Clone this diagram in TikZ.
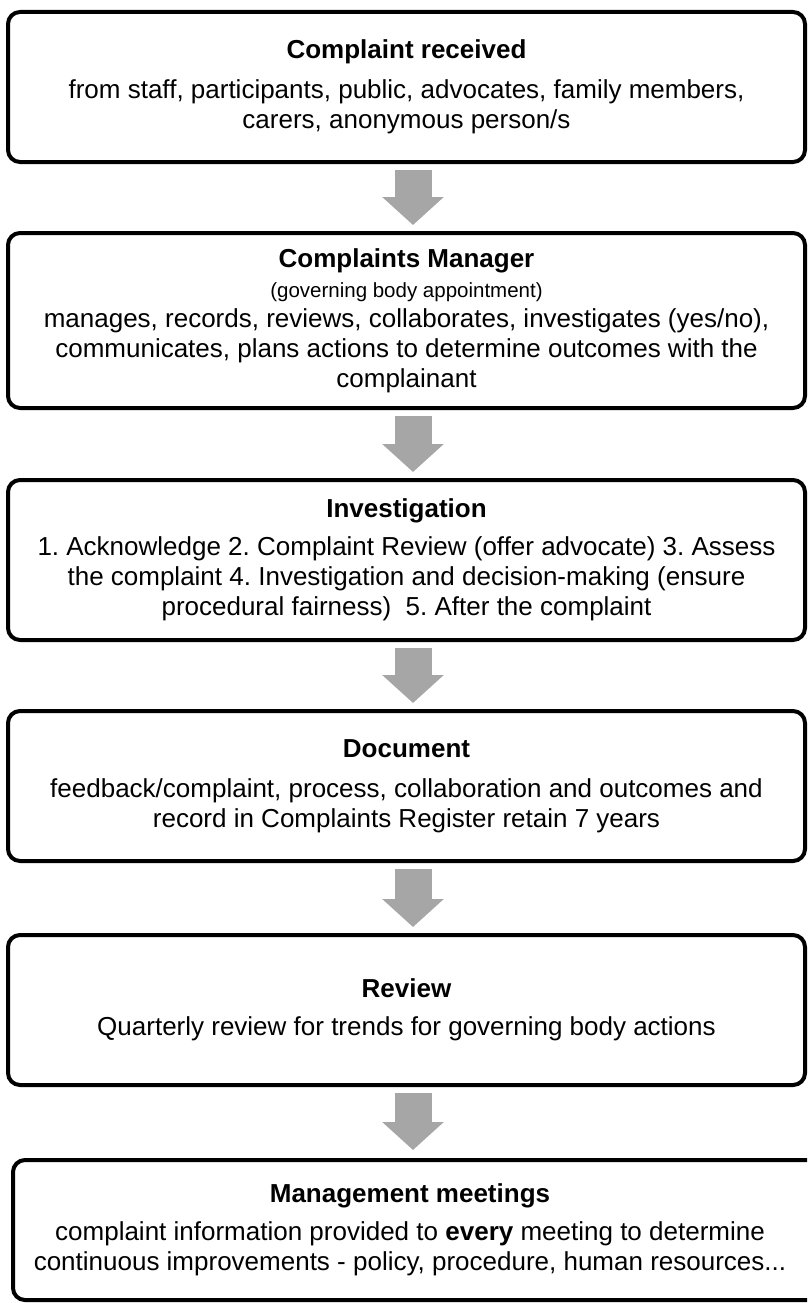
\documentclass[tikz,border=0pt]{standalone}
\usepackage{fontspec}
\setmainfont{Liberation Sans}
\usetikzlibrary{arrows.meta}
\definecolor{arrowgray}{HTML}{A6A6A6}
\frenchspacing
\begin{document}
\begin{tikzpicture}[x=1pt,y=-1pt,
  frame/.style={draw=black, line width=4pt, rounded corners=12pt},
  box/.style={frame, minimum width=797pt,
    align=center, font=\fontsize{26}{30}\selectfont\frenchspacing, inner sep=0pt, outer sep=0pt},
  flow/.style={draw=arrowgray, line width=37pt, line cap=butt,
    -{Triangle[width=60pt,length=28pt]}, fill=arrowgray}
]
\useasboundingbox (0,0) rectangle (807,1303);
\clip (0,0) rectangle (807,1303);

\node[box, minimum height=150pt] (b1) at (406.5,87)
  {\textbf{Complaint received}\\[10pt]
   from staff, participants, public, advocates, family members,\\
   carers, anonymous person/s};

\node[box, minimum height=175pt] (b2) at (406.5,320.5)
  {\textbf{Complaints Manager}\\
   {\fontsize{20.5}{24}\selectfont (governing body appointment)}\\
   manages, records, reviews, collaborates, investigates (yes/no),\\
   communicates, plans actions to determine outcomes with the\\
   complainant};

\node[box, minimum height=160pt] (b3) at (406.5,560)
  {\textbf{Investigation}\\[8pt]
   1. Acknowledge 2. Complaint Review (offer advocate) 3. Assess\\
   the complaint 4. Investigation and decision-making (ensure\\
   procedural fairness)\ \ 5. After the complaint};

\node[box, minimum height=150pt] (b4) at (406.5,786)
  {\textbf{Document}\\[10pt]
   feedback/complaint, process, collaboration and outcomes and\\
   record in Complaints Register retain 7 years};

\node[box, minimum height=150pt] (b5) at (406.5,1010)
  {\textbf{Review}\\[8pt]
   Quarterly review for trends for governing body actions};

% last box: its right side runs past the page edge
\draw[frame] (13,1160) rectangle (829,1300);
\coordinate (b6top) at (413,1160);
\node[align=center, font=\fontsize{26}{30}\selectfont\frenchspacing, inner sep=0pt] (b6) at (410,1230)
  {\textbf{Management meetings}\\[8pt]
   complaint information provided to \textbf{every} meeting to determine\\
   continuous improvements - policy, procedure, human resources...};

\foreach \a/\b in {b1/b2, b2/b3, b3/b4, b4/b5}
  \draw[flow] ([xshift=6.5pt,yshift=-8pt]\a.south) -- ([xshift=6.5pt,yshift=8pt]\b.north);
\draw[flow] ([xshift=6.5pt,yshift=-8pt]b5.south) -- ([yshift=10pt]b6top);
\end{tikzpicture}
\end{document}
